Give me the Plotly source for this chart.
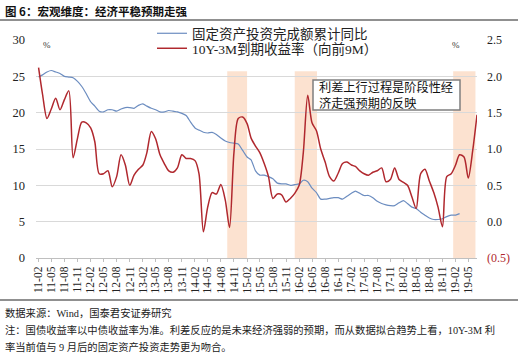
import pandas as pd
import plotly.graph_objects as go

# ---------------- data ----------------
fai_yoy = [24.9, 25.2, 25.6, 25.8, 25.6, 25.4, 25.0, 24.9, 24.8, 24.3, 23.6,
           22.6, 21.5, 20.9, 20.2, 20.1, 20.4, 20.4, 20.2, 20.5, 20.7, 20.7, 20.6,
           21.0, 21.2, 20.9, 20.6, 20.4, 20.1, 20.1, 20.3, 20.2, 20.1, 19.9, 19.6,
           18.7, 17.9, 17.6, 17.3, 17.2, 17.3, 17.0, 16.5, 16.1, 15.9, 15.8, 15.7,
           14.8, 13.9, 13.5, 12.0, 11.4, 11.4, 11.2, 10.9, 10.3, 10.2, 10.2, 10.0,
           10.1, 10.2, 10.7, 10.5, 9.6, 9.0, 8.1, 8.1, 8.2, 8.3, 8.3, 8.1,
           8.5, 8.9, 9.2, 8.9, 8.6, 8.6, 8.3, 7.8, 7.5, 7.3, 7.2, 7.2,
           7.6, 7.9, 7.5, 7.0, 6.8, 6.3, 5.9, 5.5, 5.3, 5.3, 5.4, 5.7,
           5.9, 5.9, 6.1]

spread_fwd9m = [2.12, 1.75, 1.42, 1.55, 1.70, 1.54, 1.68, 1.80, 0.88, 1.15, 1.37,
                1.36, 1.29, 1.10, 0.66, 0.66, 0.70, 0.48, 0.62, 0.92, 0.78, 0.50, 0.64,
                0.72, 0.78, 0.95, 1.24, 1.14, 0.92, 0.80, 0.70, 0.68, 0.74, 0.92, 0.87,
                0.87, 0.84, 0.66, -0.14, 0.20, 0.40, 0.38, 0.51, 0.30, -0.08, 0.95, 1.42,
                1.44, 1.35, 1.15, 1.04, 0.95, 0.80, 0.62, 0.32, 0.38, 0.37, 0.27, 0.32,
                0.39, 0.50, 0.95, 1.74, 1.36, 1.25, 1.00, 0.82, 0.62, 0.56, 0.67, 0.80,
                0.82, 0.78, 0.76, 0.70, 0.66, 0.64, 0.68, 0.70, 0.74, 0.55, 0.58, 0.74,
                0.58, 0.54, 0.50, 0.34, 0.18, 0.66, 0.72, 0.56, 0.40, 0.20, -0.07, 0.62,
                0.66, 0.78, 0.92, 0.89, 0.60, 0.98, 1.47]

shaded_periods = [("2014-09-15", "2015-02-01"),
                  ("2016-01-01", "2016-06-05"),
                  ("2019-01-15", "2019-06-20")]
shade_top = 25.7

left_ticks = [0, 5, 10, 15, 20, 25, 30]
right_ticks = [-0.5, 0.0, 0.5, 1.0, 1.5, 2.0, 2.5]
right_ticktext = ['<span style="color:#B0282E">(0.5)</span>', "0.0", "0.5", "1.0", "1.5", "2.0", "2.5"]

name_fai = "固定资产投资完成额累计同比"
name_spread = "10Y-3M到期收益率（向前9M）"
title_text = "图 6：宏观维度：经济平稳预期走强"
box_text = "利差上行过程是阶段性经<br>济走强预期的反映"
source_text = "数据来源：Wind，国泰君安证券研究"
note_line1 = "注：国债收益率以中债收益率为准。利差反应的是未来经济强弱的预期，而从数据拟合趋势上看，10Y-3M 利"
note_line2 = "率当前值与 9 月后的固定资产投资走势更为吻合。"

dates_fai = pd.date_range("2011-02-01", periods=len(fai_yoy), freq="MS")
dates_spread = pd.date_range("2011-02-01", periods=len(spread_fwd9m), freq="MS")

# ---------------- layout geometry ----------------
W, H = 518, 358
L, R, T, B = 36, 41, 40, 100
PW, PH = W - L - R, H - T - B


def px(x):
    return (x - L) / PW


def py(y):
    return (H - B - y) / PH


def cx(x):
    return x / W


def cy(y):
    return 1 - y / H


FONT = "Liberation Serif, Noto Sans CJK SC, serif"

fig = go.Figure()

fig.add_trace(go.Scatter(x=dates_fai, y=fai_yoy, name=name_fai, mode="lines",
                         line=dict(color="#6C8DC0", width=1.2, shape="spline", smoothing=0.6),
                         yaxis="y", legend="legend"))
fig.add_trace(go.Scatter(x=dates_spread, y=spread_fwd9m, name=name_spread, mode="lines",
                         line=dict(color="#B0282E", width=1.5, shape="spline", smoothing=0.8),
                         yaxis="y2", legend="legend2"))

shapes = []
for a, b in shaded_periods:
    shapes.append(dict(type="rect", xref="x", yref="y", x0=a, x1=b, y0=0, y1=shade_top,
                       fillcolor="#FBDDC8", line=dict(width=0), layer="below", opacity=0.85))
# title rule and footer rule
shapes.append(dict(type="line", xref="paper", yref="paper", x0=px(0), x1=px(W), y0=py(20), y1=py(20),
                   line=dict(color="#222", width=1.2)))
shapes.append(dict(type="line", xref="paper", yref="paper", x0=px(0), x1=px(W), y0=py(300), y1=py(300),
                   line=dict(color="#222", width=1.2)))
# annotation box
shapes.append(dict(type="rect", xref="paper", yref="paper", x0=px(313), x1=px(460), y0=py(110), y1=py(80),
                   fillcolor="white", line=dict(color="#7F7F7F", width=1.5), layer="above"))

annotations = [
    dict(text="<b>" + title_text + "</b>", xref="paper", yref="paper", x=px(3), y=py(11),
         xanchor="left", yanchor="middle", showarrow=False,
         font=dict(family="Noto Sans CJK SC", size=11.5, color="#111")),
    dict(text=box_text, xref="paper", yref="paper", x=px(317), y=py(95), xanchor="left", yanchor="middle",
         align="left", showarrow=False, font=dict(family=FONT, size=12.2, color="#111")),
    dict(text="%", xref="paper", yref="paper", x=px(41), y=py(38), showarrow=False,
         font=dict(family=FONT, size=9, color="#333")),
    dict(text="%", xref="paper", yref="paper", x=px(462), y=py(38), showarrow=False,
         font=dict(family=FONT, size=9, color="#333")),
    dict(text=source_text, xref="paper", yref="paper", x=px(3), y=py(313), xanchor="left", yanchor="middle",
         showarrow=False, font=dict(family=FONT, size=10.3, color="#222")),
    dict(text=note_line1, xref="paper", yref="paper", x=px(3), y=py(330), xanchor="left", yanchor="middle",
         showarrow=False, font=dict(family=FONT, size=10.3, color="#222")),
    dict(text=note_line2, xref="paper", yref="paper", x=px(3), y=py(347), xanchor="left", yanchor="middle",
         showarrow=False, font=dict(family=FONT, size=10.3, color="#222")),
]

legend_common = dict(xref="container", yref="container", xanchor="left", yanchor="top",
                     bgcolor="rgba(255,255,255,0)", font=dict(family=FONT, size=13.5, color="#222"),
                     itemwidth=30)

fig.update_layout(
    width=W, height=H,
    margin=dict(l=L, r=R, t=T, b=B, autoexpand=False),
    paper_bgcolor="white", plot_bgcolor="white",
    font=dict(family=FONT, size=12, color="#222"),
    showlegend=True,
    legend=dict(x=cx(152), y=cy(18), **legend_common),
    legend2=dict(x=cx(152), y=cy(33), **legend_common),
    xaxis=dict(type="date", range=["2011-01-14", "2019-07-01"], tickformat="%y-%m",
               dtick="M3", tick0="2011-02-01", tickangle=-90, showgrid=False,
               showline=True, linecolor="#BFBFBF", linewidth=1,
               ticks="outside", ticklen=3, tickcolor="#BFBFBF",
               tickfont=dict(family=FONT, size=11.5, color="#222"), zeroline=False),
    yaxis=dict(range=[0, 30], tickvals=left_ticks, showgrid=True, gridcolor="#D9D9D9", gridwidth=1,
               zeroline=False, showline=False, ticks="", ticklabelstandoff=10,
               tickfont=dict(family=FONT, size=12.5, color="#222")),
    yaxis2=dict(range=[-0.5, 2.5], tickvals=right_ticks, ticktext=right_ticktext, overlaying="y",
                side="right", showgrid=False, zeroline=False, showline=False, ticks="",
                ticklabelstandoff=9, tickfont=dict(family=FONT, size=12, color="#222")),
    shapes=shapes,
    annotations=annotations,
)

fig.write_html("out.html", config={"displayModeBar": False},
               post_script="document.body.style.margin='0px';document.body.style.overflow='hidden';")
